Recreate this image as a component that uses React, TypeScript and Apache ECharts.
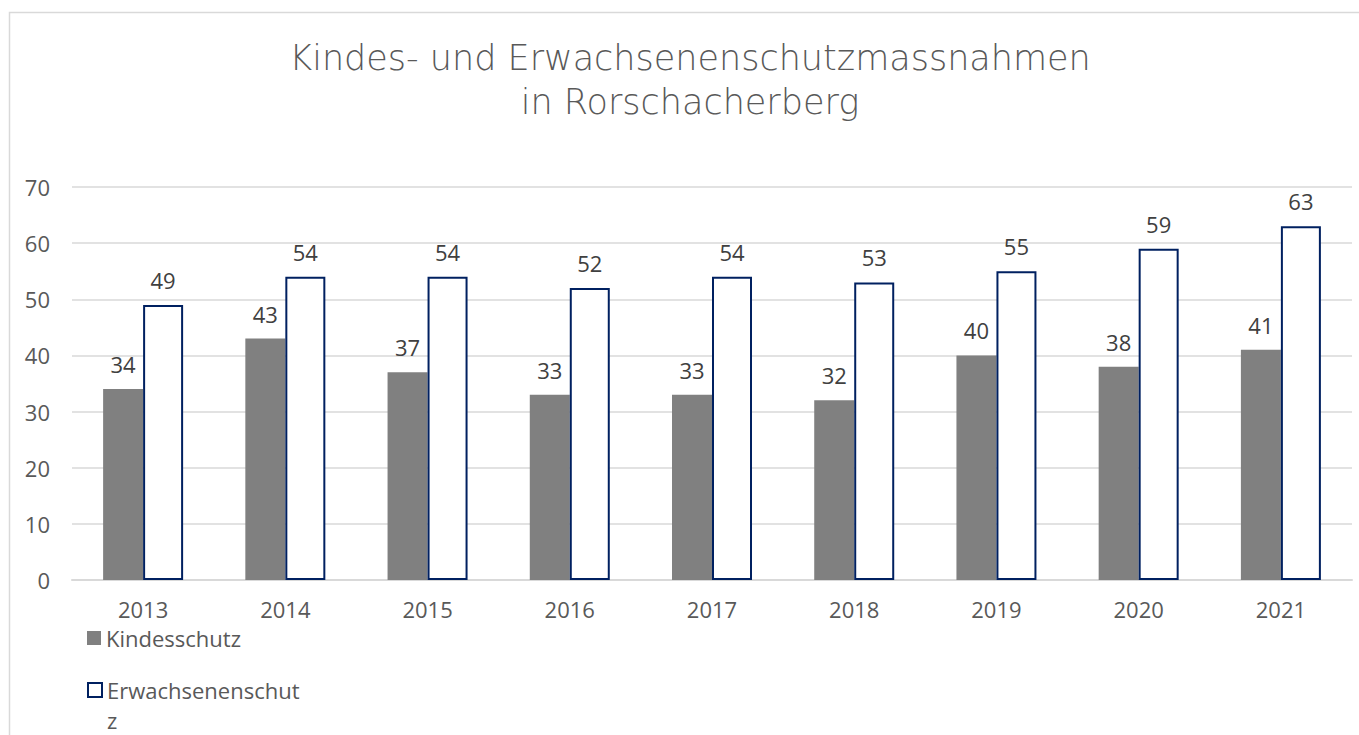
import React, { useEffect, useRef } from "react";
import * as echarts from "echarts";

const years = ["2013", "2014", "2015", "2016", "2017", "2018", "2019", "2020", "2021"];
const kindesschutz = [34, 43, 37, 33, 33, 32, 40, 38, 41];
const erwachsenenschutz = [49, 54, 54, 52, 54, 53, 55, 59, 63];
const yTicks = [0, 10, 20, 30, 40, 50, 60, 70];
const titleLines = ["Kindes- und Erwachsenenschutzmassnahmen", "in Rorschacherberg"];

const FONT = "'Open Sans', Roboto, 'DejaVu Sans', sans-serif";
const TITLE_FONT = "'DejaVu Sans', 'Open Sans', sans-serif";

export default function App() {
  const ref = useRef<HTMLDivElement>(null);
  useEffect(() => {
    if (!ref.current) return;
    const chart = echarts.init(ref.current, undefined, { renderer: "svg" });
    const labelStyle = { show: true, position: "top", distance: 14, fontFamily: FONT, fontSize: 22, color: "#404040" };
    const titleStyle = {
      fontFamily: TITLE_FONT,
      fontSize: 35,
      fontWeight: 200,
      color: "#595959",
      lineHeight: 40,
    };
    chart.setOption({
      animation: false,
      backgroundColor: "#ffffff",
      title: [
        { text: titleLines[0], left: 690, textAlign: "center", top: 38, padding: 0, textStyle: titleStyle },
        { text: titleLines[1], left: 690, textAlign: "center", top: 82, padding: 0, textStyle: titleStyle },
      ],
      graphic: [
        {
          type: "rect",
          shape: { x: 9.5, y: 12.5, width: 1400, height: 800 },
          style: { fill: "none", stroke: "#d9d9d9", lineWidth: 1.5 },
          silent: true,
          z: -1,
        },
      ],
      legend: [
        {
          orient: "vertical",
          left: 82,
          top: 618,
          itemWidth: 14,
          itemHeight: 14,
          icon: "rect",
          textStyle: { fontFamily: FONT, fontSize: 22, color: "#595959", lineHeight: 30 },
          data: [{ name: "Kindesschutz", itemStyle: { color: "#808080" } }],
        },
        {
          orient: "vertical",
          left: 82,
          top: 640,
          itemWidth: 14,
          itemHeight: 14,
          icon: "rect",
          textStyle: { fontFamily: FONT, fontSize: 22, color: "#595959", lineHeight: 30 },
          formatter: () => "\nErwachsenenschut\nz",
          data: [
            { name: "Erwachsenenschutz", itemStyle: { color: "#ffffff", borderColor: "#002060", borderWidth: 2 } },
          ],
        },
      ],
      grid: { left: 72, right: 7, top: 187, bottom: 155 },
      xAxis: {
        type: "category",
        data: years,
        axisTick: { show: false },
        axisLine: { lineStyle: { color: "#d9d9d9", width: 2 } },
        axisLabel: { fontFamily: FONT, fontSize: 22, color: "#595959", margin: 18 },
      },
      yAxis: {
        type: "value",
        min: yTicks[0],
        max: yTicks[yTicks.length - 1],
        interval: 10,
        axisLine: { show: false },
        axisTick: { show: false },
        splitLine: { lineStyle: { color: "#d9d9d9", width: 1.5 } },
        axisLabel: { fontFamily: FONT, fontSize: 22, color: "#595959", margin: 22 },
      },
      series: [
        {
          name: "Kindesschutz",
          type: "bar",
          data: kindesschutz,
          barWidth: 40,
          barGap: "0%",
          itemStyle: { color: "#808080" },
          label: labelStyle,
        },
        {
          name: "Erwachsenenschutz",
          type: "bar",
          data: erwachsenenschutz,
          barWidth: 40,
          barGap: "0%",
          itemStyle: { color: "#ffffff", borderColor: "#002060", borderWidth: 2 },
          label: labelStyle,
        },
      ],
    });
    return () => chart.dispose();
  }, []);
  return (
    <div
      ref={ref}
      style={{ position: "absolute", left: 0, top: 0, width: 1359, height: 735 }}
    />
  );
}
